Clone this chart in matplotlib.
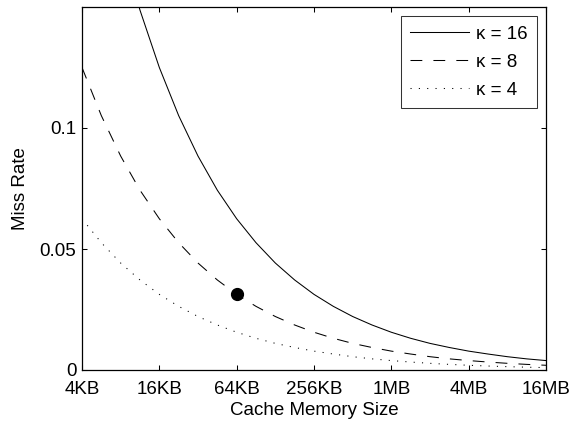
import matplotlib
matplotlib.use("Agg")
import matplotlib.pyplot as plt

plt.rcParams['font.family'] = ['Liberation Sans', 'DejaVu Sans']
plt.rcParams['lines.scale_dashes'] = False

# cache sizes in KB (half-octave steps)
sizes_kb = [4, 5.657, 8, 11.31, 16, 22.63, 32, 45.25, 64, 90.51, 128, 181.0,
            256, 362.0, 512, 724.1, 1024, 1448, 2048, 2896, 4096, 5793, 8192,
            11585, 16384]
miss_k16 = [0.25, 0.2102, 0.1768, 0.1487, 0.125, 0.1051, 0.0884, 0.0743,
            0.0625, 0.0526, 0.0442, 0.0372, 0.03125, 0.0263, 0.0221, 0.0186,
            0.0156, 0.0131, 0.0110, 0.0093, 0.0078, 0.0066, 0.0055, 0.0046,
            0.0039]
miss_k8 = [0.125, 0.1051, 0.0884, 0.0743, 0.0625, 0.0526, 0.0442, 0.0372,
           0.03125, 0.0263, 0.0221, 0.0186, 0.0156, 0.0131, 0.0110, 0.0093,
           0.0078, 0.0066, 0.0055, 0.0046, 0.0039, 0.00329, 0.00276, 0.00232,
           0.00195]
miss_k4 = [0.0625, 0.0526, 0.0442, 0.0372, 0.03125, 0.0263, 0.0221, 0.0186,
           0.0156, 0.0131, 0.0110, 0.0093, 0.0078, 0.0066, 0.0055, 0.0046,
           0.0039, 0.00329, 0.00276, 0.00232, 0.00195, 0.00164, 0.00138,
           0.00116, 0.00098]
highlight_x = [64]
highlight_y = [0.03125]
tick_pos = [4, 16, 64, 256, 1024, 4096, 16384]
tick_labels = ['4KB', '16KB', '64KB', '256KB', '1MB', '4MB', '16MB']
labels = ['\u03ba = 16', '\u03ba = 8', '\u03ba = 4']

fs = 13.5
fig = plt.figure(figsize=(5.74, 4.24), dpi=100)
ax = fig.add_axes([82/574, 1-370/424, (546-82)/574, (370-7)/424])

lw = 0.75
ax.plot(sizes_kb, miss_k16, color='black', lw=lw, label=labels[0])
ax.plot(sizes_kb, miss_k8, color='black', lw=lw, dashes=(8.5, 8.0), label=labels[1])
ax.plot(sizes_kb, miss_k4, color='black', lw=lw, dashes=(0.8, 5.2), label=labels[2])
ax.plot(highlight_x, highlight_y, 'o', color='black', markersize=8.5)

ax.set_xscale('log', base=2)
ax.set_xlim(4, 16384)
ax.set_ylim(0, 0.15)
ax.set_xticks(tick_pos)
ax.set_xticklabels(tick_labels)
ax.minorticks_off()
ax.set_yticks([0, 0.05, 0.1])
ax.set_yticklabels(['0', '0.05', '0.1'])
ax.tick_params(direction='in', length=3.5, width=0.75, top=True, right=True,
               labelsize=fs)
ax.tick_params(axis='x', pad=8)
ax.tick_params(axis='y', pad=4)
for s in ax.spines.values():
    s.set_linewidth(0.9)

ax.set_xlabel('Cache Memory Size', fontsize=fs, labelpad=3)
ax.set_ylabel('Miss Rate', fontsize=fs, labelpad=8)

leg = ax.legend(loc='upper right', fontsize=fs, handlelength=3.1,
                frameon=True, fancybox=False, edgecolor='black',
                borderaxespad=0.5, labelspacing=0.58, handletextpad=0.38,
                borderpad=0.5)
leg.get_frame().set_linewidth(0.75)

fig.savefig('out.png', dpi=100)
